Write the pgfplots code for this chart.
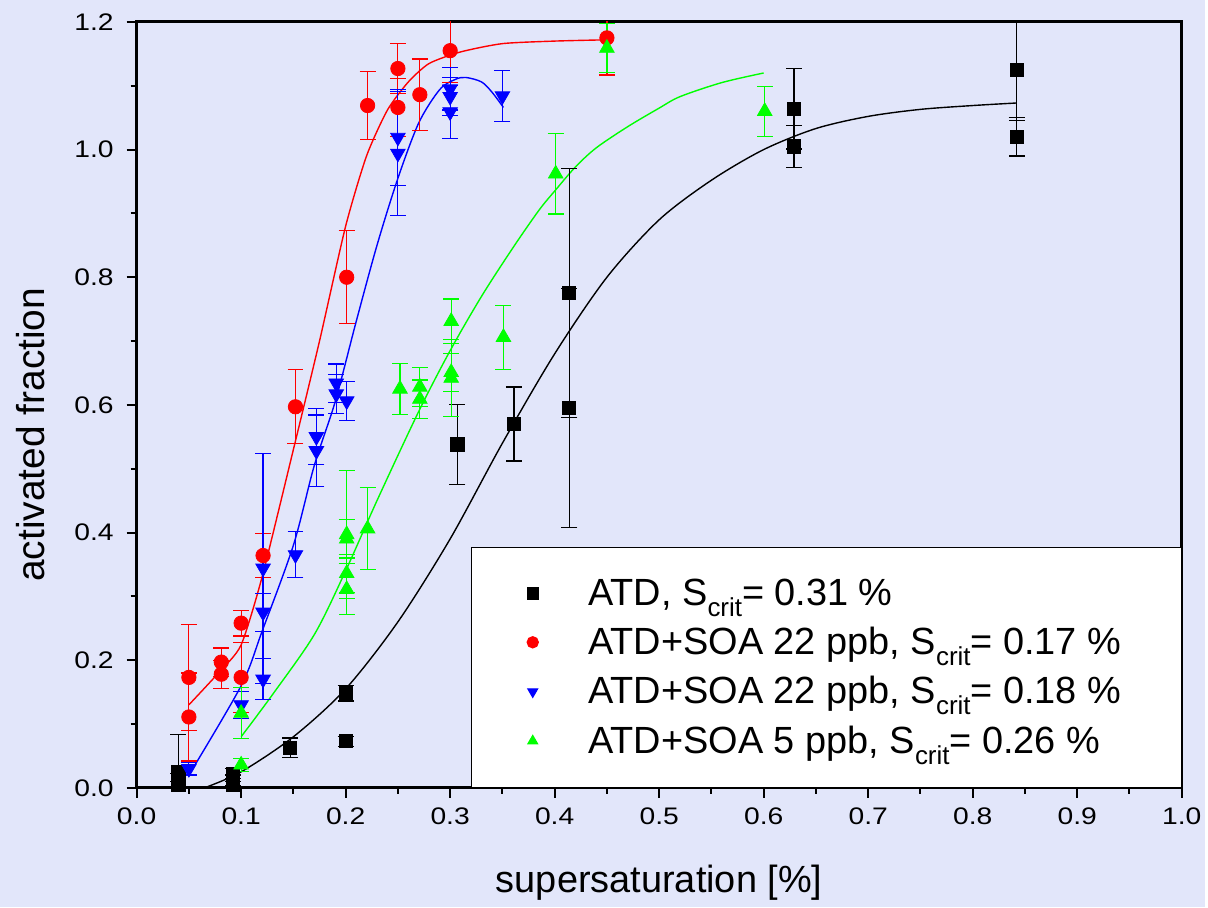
\documentclass[border=0pt]{standalone}
\usepackage{pgfplots}
\pgfplotsset{compat=1.18}
\usepackage{fontspec}
\setmainfont{Liberation Sans}
\newfontfamily\widefont{Liberation Sans}[FakeStretch=1.18]
\definecolor{bg}{RGB}{226,230,250}
\newcommand{\crit}{\raisebox{-0.55ex}{\fontsize{13}{13}\selectfont crit}}
\pgfplotstableread{
x y e
0.040 0.025 0.058
0.040 0.012 0.010
0.040 0.005 0.005
0.092 0.022 0.008
0.092 0.012 0.008
0.092 0.005 0.005
0.147 0.063 0.015
0.200 0.148 0.012
0.200 0.073 0.008
0.307 0.538 0.063
0.361 0.570 0.058
0.414 0.775 0.195
0.414 0.595 0.187
0.629 1.064 0.063
0.629 1.005 0.033
0.842 1.125 0.080
0.842 1.020 0.030
}\atd
\pgfplotstableread{
x y e
0.050 0.173 0.083
0.050 0.111 0.069
0.081 0.197 0.022
0.081 0.178 0.022
0.100 0.258 0.020
0.100 0.173 0.055
0.121 0.364 0.035
0.152 0.597 0.058
0.201 0.800 0.073
0.221 1.069 0.053
0.250 1.127 0.039
0.250 1.066 0.045
0.271 1.086 0.056
0.300 1.155 0.050
0.450 1.175 0.058
}\soaa
\pgfplotstableread{
x y e
0.050 0.030 0.010
0.100 0.130 0.021
0.121 0.344 0.180
0.121 0.275 0.030
0.121 0.170 0.032
0.152 0.365 0.036
0.172 0.550 0.044
0.172 0.528 0.056
0.191 0.634 0.030
0.191 0.617 0.030
0.201 0.606 0.031
0.250 1.019 0.075
0.250 0.994 0.097
0.300 1.095 0.033
0.300 1.083 0.030
0.300 1.059 0.042
0.350 1.084 0.040
}\soab
\pgfplotstableread{
x y e
0.100 0.036 0.010
0.100 0.117 0.040
0.201 0.397 0.100
0.201 0.390 0.030
0.201 0.336 0.030
0.201 0.311 0.040
0.221 0.406 0.064
0.252 0.625 0.040
0.271 0.628 0.030
0.271 0.609 0.030
0.301 0.731 0.035
0.301 0.651 0.030
0.301 0.642 0.060
0.351 0.706 0.050
0.401 0.962 0.063
0.450 1.159 0.038
0.601 1.060 0.039
}\soac
\begin{document}
\begin{tikzpicture}
\fill[bg] (-68.5pt,-60pt) rectangle (535.5pt,395pt);
\begin{axis}[
  at={(0,0)}, anchor=south west,
  scale only axis, width=524pt, height=384pt,
  xmin=0, xmax=1.0, ymin=0, ymax=1.2,
  xtick={0,0.1,...,1.0}, ytick={0,0.2,...,1.2},
  minor x tick num=1, minor y tick num=1,
  xtick pos=left, ytick pos=left, tick align=outside,
  major tick length=5pt, minor tick length=3pt,
  every tick/.style={black, line width=1pt},
  axis line style={line width=1.5pt},
  axis background/.style={fill=bg},
  /pgf/number format/assume math mode=true,
  /pgf/number format/.cd, fixed, fixed zerofill, precision=1, /pgfplots/.cd,
  tick label style={font=\widefont\fontsize{12}{12}\selectfont},
  xticklabel style={yshift=-1.5pt},
  yticklabel style={xshift=-3pt},
  xlabel={supersaturation [\%]},
  ylabel={activated fraction},
  xlabel style={at={(axis description cs:0.5,-0.1237)}, anchor=center, font=\fontsize{19}{19}\selectfont},
  ylabel style={at={(axis description cs:-0.101,0.461)}, anchor=center, font=\fontsize{19.5}{19.5}\selectfont},
  legend style={at={(1,0)}, anchor=south east, fill=white, draw=black, line width=0.6pt,
    font=\fontsize{19}{24}\selectfont, inner xsep=28pt, inner ysep=13.5pt, row sep=5.5pt,
    /tikz/every odd column/.append style={column sep=23pt}},
  legend image code/.code={\draw[#1, mark size=2.8pt] plot coordinates {(0pt,0pt)};},
  legend cell align=left,
  error bars/error bar style={line width=0.6pt},
  error bars/error mark options={rotate=90, mark size=4pt, line width=0.6pt},
]
% fit curves
\addplot[black, line width=0.7pt, smooth, forget plot] coordinates {
(0.065,0.0) (0.10,0.025) (0.15,0.08) (0.20,0.155) (0.25,0.26) (0.30,0.39) (0.35,0.54) (0.40,0.68) (0.45,0.80) (0.50,0.89) (0.55,0.952) (0.60,1.00) (0.65,1.033) (0.70,1.052) (0.75,1.063) (0.80,1.069) (0.842,1.073)};
\addplot[red, line width=0.7pt, smooth, tension=0.4, forget plot] coordinates {
(0.05,0.13) (0.08,0.183) (0.10,0.224) (0.12,0.33) (0.15,0.53) (0.175,0.70) (0.20,0.88) (0.22,0.99) (0.24,1.062) (0.26,1.106) (0.28,1.135) (0.31,1.153) (0.35,1.166) (0.40,1.170) (0.45,1.172)};
\addplot[blue, line width=0.7pt, smooth, forget plot] coordinates {
(0.05,0.02) (0.10,0.16) (0.12,0.245) (0.15,0.38) (0.17,0.505) (0.19,0.605) (0.21,0.73) (0.23,0.85) (0.25,0.955) (0.27,1.042) (0.29,1.094) (0.305,1.11) (0.315,1.113) (0.33,1.106) (0.34,1.09) (0.351,1.066)};
\addplot[green, line width=0.7pt, smooth, forget plot] coordinates {
(0.10,0.08) (0.13,0.146) (0.17,0.24) (0.20,0.34) (0.23,0.45) (0.27,0.59) (0.30,0.685) (0.33,0.77) (0.36,0.846) (0.385,0.905) (0.40,0.935) (0.42,0.973) (0.44,1.003) (0.47,1.036) (0.50,1.065) (0.52,1.083) (0.56,1.105) (0.60,1.12)};
% data
\addplot[black, only marks, mark=square*, mark size=3.3pt,
  error bars/.cd, y dir=both, y explicit] table[x=x, y=y, y error=e] {\atd};
\addlegendentry{ATD, S\crit= 0.31 \%}
\addplot[red, only marks, mark=*, mark size=3.6pt,
  error bars/.cd, y dir=both, y explicit] table[x=x, y=y, y error=e] {\soaa};
\addlegendentry{ATD+SOA 22 ppb, S\crit= 0.17 \%}
\addplot[blue, only marks, mark=triangle*, mark size=4.2pt, mark options={rotate=180},
  error bars/.cd, y dir=both, y explicit] table[x=x, y=y, y error=e] {\soab};
\addlegendentry{ATD+SOA 22 ppb, S\crit= 0.18 \%}
\addplot[green, only marks, mark=triangle*, mark size=4.2pt,
  error bars/.cd, y dir=both, y explicit] table[x=x, y=y, y error=e] {\soac};
\addlegendentry{ATD+SOA 5 ppb, S\crit= 0.26 \%}
\end{axis}
\end{tikzpicture}
\end{document}
